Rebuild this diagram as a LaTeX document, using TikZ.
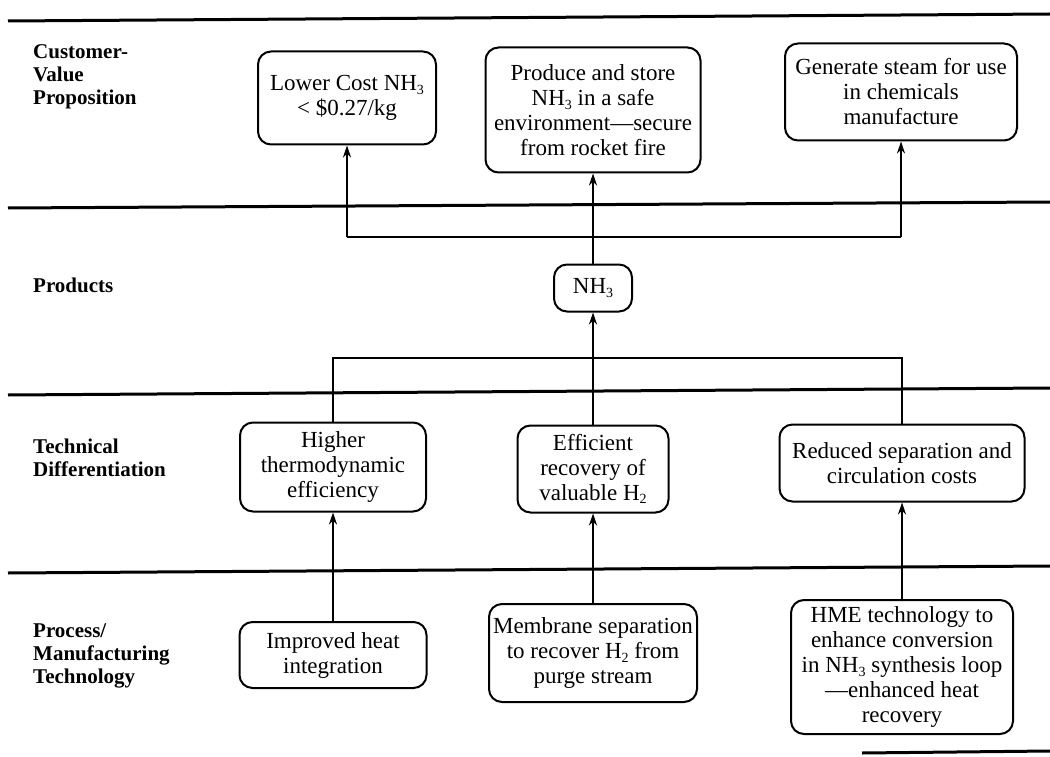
\documentclass[tikz,border=0pt]{standalone}
\usepackage{fontspec}
\setmainfont{Liberation Serif}
\usetikzlibrary{arrows.meta}
\newcommand{\chs}[1]{\raisebox{-0.35ex}{\fontsize{14}{14}\selectfont #1}}
\begin{document}
\begin{tikzpicture}[x=1pt,y=-1pt,
  box/.style={draw, line width=2pt, rounded corners=13pt, align=center, inner sep=3pt, font=\fontsize{23}{25}\selectfont},
  lbl/.style={anchor=west, align=left, inner sep=0pt, font=\fontsize{21}{23}\selectfont\bfseries},
  band/.style={line width=3pt},
  conn/.style={line width=1.3pt},
  arr/.style={conn, -{Stealth[length=12pt,width=8pt]}}]
\useasboundingbox (0,0) rectangle (1050,757);

% band lines
\draw[band] (8,21) -- (1050,14);
\draw[band] (8,208) -- (1050,202);
\draw[band] (8,395) -- (1050,388);
\draw[band] (8,573) -- (1050,566);
\draw[band] (862,753) -- (1050,751);

% row labels
\node[lbl] (l1) at (33,77) {Customer-\\Value\\Proposition};
\node[lbl] (l2) at (33,285) {Products};
\node[lbl] (l3) at (33,458) {Technical\\Differentiation};
\node[lbl] (l4) at (33,656) {Process/\\Manufacturing\\Technology};

% boxes
\node[box, minimum width=178pt, minimum height=93pt] (A) at (347,98) {Lower Cost NH\chs{3}\\< \$0.27/kg};
\node[box, minimum width=215pt, minimum height=125pt] (B) at (593,110) {Produce and store\\NH\chs{3} in a safe\\environment---secure\\from rocket fire};
\node[box, minimum width=232pt, minimum height=97pt] (C) at (901,92) {Generate steam for use\\in chemicals\\manufacture};
\node[box, minimum width=78pt, minimum height=47pt] (N) at (593,288) {NH\chs{3}};
\node[box, minimum width=186pt, minimum height=89pt] (D) at (333,467) {Higher\\thermodynamic\\efficiency};
\node[box, minimum width=151pt, minimum height=87pt] (E) at (593,469) {Efficient\\recovery of\\valuable H\chs{2}};
\node[box, minimum width=245pt, minimum height=77pt] (F) at (902,463) {Reduced separation and\\circulation costs};
\node[box, minimum width=187pt, minimum height=66pt] (G) at (333,655) {Improved heat\\integration};
\node[box, minimum width=208pt, minimum height=98pt] (H) at (593,653) {Membrane separation\\to recover H\chs{2} from\\purge stream};
\node[box, minimum width=222pt, minimum height=134pt] (I) at (902,667) {HME technology to\\enhance conversion\\in NH\chs{3} synthesis loop\\---enhanced heat\\recovery};

% junction coordinates
\coordinate (jt1) at (347,237);
\coordinate (jt2) at (901,237);
\coordinate (jb1) at (333,358);
\coordinate (jb2) at (902,358);

% connectors top
\draw[conn] (jt1) -- (jt2);
\draw[arr] (jt1) -- (A.south);
\draw[arr] (jt2) -- (C.south);
\draw[arr] (N.north) -- (B.south);

% connectors middle
\draw[conn] (D.north) -- (jb1) -- (jb2) -- (F.north);
\draw[arr] (E.north) -- (N.south);

% connectors bottom
\draw[arr] (G.north) -- (D.south);
\draw[arr] (H.north) -- (E.south);
\draw[arr] (I.north) -- (F.south);
\end{tikzpicture}
\end{document}
